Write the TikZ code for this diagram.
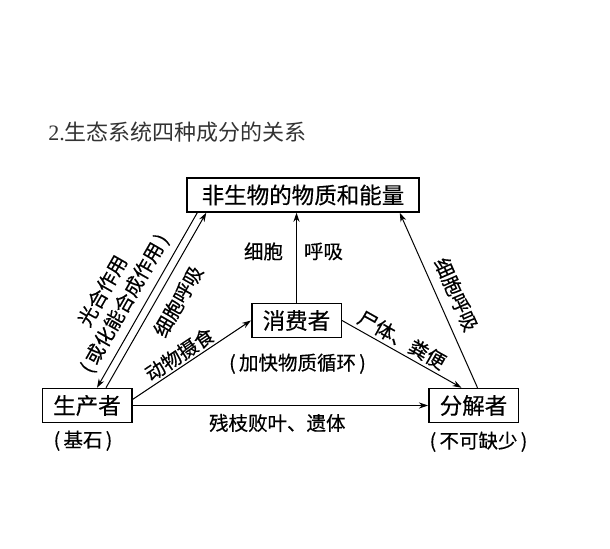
\documentclass[tikz,border=0pt]{standalone}
\usepackage{fontspec}
\setmainfont{Liberation Serif}
\newfontfamily\cjk{Noto Sans CJK SC}
\newfontfamily\cjkmid[FakeBold=0.4]{Noto Sans CJK SC}
\usetikzlibrary{arrows.meta,positioning}

\begin{document}
\begin{tikzpicture}[
    x=0.5pt, y=-0.5pt,
    part/.style={rectangle,draw,line width=0.75pt,minimum height=17pt,inner xsep=5.5pt,inner ysep=1pt,font=\cjkmid\fontsize{11.25}{13}\selectfont},
    lbl/.style={inner sep=1pt,font=\cjkmid\fontsize{9.75}{12.5}\selectfont},
    flow/.style={line width=0.5pt},
    >={Stealth[length=4.5pt,width=3pt]}
  ]
  \useasboundingbox (0,0) rectangle (610,549);
  \node[anchor=west,inner sep=0pt,font=\fontsize{11}{13}\selectfont,black!80] (title) at (48,132) {2.{\cjk 生态系统四种成分的关系}};

  \node[part,minimum width=116pt] (abio) at (303,195) {非生物的物质和能量};
  \node[part] (cons) at (296.5,320.5) {消费者};
  \node[part] (prod) at (87,405.5) {生产者};
  \node[part] (deco) at (473.5,405.5) {分解者};

  \node[lbl,below=2.5pt of prod,xshift=-2pt] (prodnote) {(\,基石\,)};
  \node[lbl,below=6.5pt of cons,xshift=0.5pt] (consnote) {(\,加快物质循环\,)};
  \node[lbl,below=3pt of deco,xshift=2.5pt] (deconote) {(\,不可缺少\,)};

  \draw[flow,->] (cons.north) -- (cons.north |- abio.south)
    node[lbl,pos=0.57,left=5.5pt] {细胞}
    node[lbl,pos=0.57,right=2.5pt] {呼吸};
  \draw[flow,<-] ([xshift=5pt]prod.north) -- ([xshift=5.5pt]abio.south west)
    node[lbl,pos=0.43,sloped,above=2.5pt,align=center] {光合作用\\(\,或化能合成作用\,)};
  \draw[flow,->] ([xshift=9.5pt]prod.north) -- ([xshift=10pt]abio.south west)
    node[lbl,pos=0.55,sloped,below=4pt] {细胞呼吸};
  \draw[flow,->] ([yshift=3pt]prod.east) -- (cons.west)
    node[lbl,pos=0.45,sloped,above=0pt] {动物摄食};
  \draw[flow,->] (cons.east) -- ([xshift=-6pt]deco.north)
    node[lbl,pos=0.45,sloped,above=0.5pt] {尸体、粪便};
  \draw[flow,->] (prod.east) -- (deco.west)
    node[lbl,pos=0.49,below=3pt] {残枝败叶、遗体};
  \draw[flow,<-] ([xshift=-10pt]abio.south east) -- ([xshift=2pt]deco.north)
    node[lbl,pos=0.51,sloped,above=3.5pt] {细胞呼吸};
\end{tikzpicture}
\end{document}
